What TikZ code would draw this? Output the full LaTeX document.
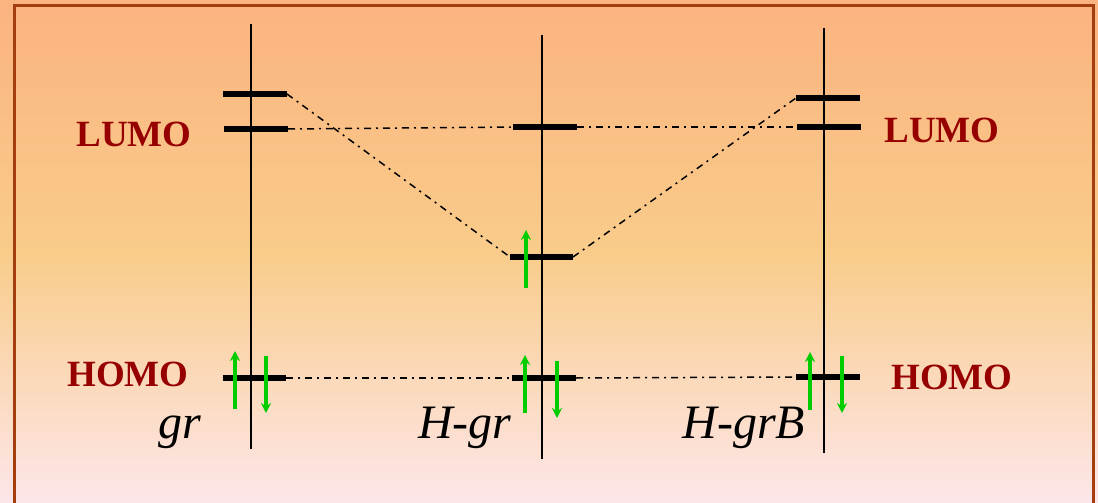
\documentclass[tikz,border=0pt]{standalone}
\usepackage{fontspec}
\setmainfont{Liberation Serif}
\usetikzlibrary{arrows.meta}
\definecolor{bgtop}{RGB}{251,179,128}
\definecolor{bgmid}{RGB}{249,204,138}
\definecolor{bgbot}{RGB}{253,230,233}
\definecolor{framec}{RGB}{165,62,14}
\definecolor{labred}{RGB}{150,0,0}
\definecolor{spin}{RGB}{0,205,0}
\tikzset{
  axisline/.style={line width=2.8pt,black},
  levelbar/.style={line width=6pt,black},
  corr/.style={line width=1.5pt,black,dash pattern=on 7pt off 5pt on 2pt off 5pt},
  spinarrow/.style={line width=4pt,spin,-{Stealth[length=10pt,width=10pt]}},
  orblabel/.style={text=labred,font=\fontsize{37}{40}\selectfont\bfseries,inner sep=0pt},
  mollabel/.style={font=\fontsize{48}{50}\selectfont\itshape,inner sep=0pt,anchor=base}
}
\begin{document}
\begin{tikzpicture}[x=1pt,y=-1pt]
\useasboundingbox (0,0) rectangle (1098,503);
\clip (0,0) rectangle (1098,503);
\shade[top color=bgtop,bottom color=bgbot,middle color=bgmid] (0,0) rectangle (1098,503);
\draw[framec,line width=3pt] (14,6) rectangle (1093,515);

% axes
\coordinate (a1t) at (251,24);  \coordinate (a1b) at (251,449);
\coordinate (a2t) at (542,35);  \coordinate (a2b) at (542,459);
\coordinate (a3t) at (824,28);  \coordinate (a3b) at (824,453);
\draw[axisline] (a1t) -- (a1b);
\draw[axisline] (a2t) -- (a2b);
\draw[axisline] (a3t) -- (a3b);

% levels
\coordinate (gUl) at (223,94);  \coordinate (gUr) at (287,94);
\coordinate (gLl) at (224,129); \coordinate (gLr) at (288,129);
\coordinate (gHl) at (223,378); \coordinate (gHr) at (286,378);
\coordinate (hLl) at (513,127); \coordinate (hLr) at (577,127);
\coordinate (hSl) at (510,257); \coordinate (hSr) at (573,257);
\coordinate (hHl) at (512,378); \coordinate (hHr) at (576,378);
\coordinate (bUl) at (796,98);  \coordinate (bUr) at (860,98);
\coordinate (bLl) at (797,127); \coordinate (bLr) at (861,127);
\coordinate (bHl) at (796,377); \coordinate (bHr) at (860,377);
\foreach \p in {gU,gL,gH,hL,hS,hH,bU,bL,bH}{
  \draw[levelbar] (\p l) -- (\p r);
}

% correlation lines
\draw[corr] (gUr) -- (hSl);
\draw[corr] (gLr) -- (hLl);
\draw[corr] (hLr) -- (bLl);
\draw[corr] (hSr) -- (bUl);
\draw[corr] (gHr) -- (hHl);
\draw[corr] (hHr) -- (bHl);

% spins
\coordinate (s1a) at (235,409); \coordinate (s1b) at (235,351);
\coordinate (s2a) at (266,356); \coordinate (s2b) at (266,413);
\coordinate (s3a) at (526,288); \coordinate (s3b) at (526,230);
\coordinate (s4a) at (525,413); \coordinate (s4b) at (525,355);
\coordinate (s5a) at (557,361); \coordinate (s5b) at (557,418);
\coordinate (s6a) at (810,410); \coordinate (s6b) at (810,352);
\coordinate (s7a) at (842,356); \coordinate (s7b) at (842,413);
\foreach \s in {s1,s2,s3,s4,s5,s6,s7}{
  \draw[spinarrow] (\s a) -- (\s b);
}

% labels
\node[orblabel] (lumoL) at (134,134) {LUMO};
\node[orblabel] (lumoR) at (942,130) {LUMO};
\node[orblabel] (homoL) at (128,374) {HOMO};
\node[orblabel] (homoR) at (952,377) {HOMO};
\node[mollabel] (m1) at (180,438) {gr};
\node[mollabel] (m2) at (465,438) {H-gr};
\node[mollabel] (m3) at (744,438) {H-grB};
\end{tikzpicture}
\end{document}
